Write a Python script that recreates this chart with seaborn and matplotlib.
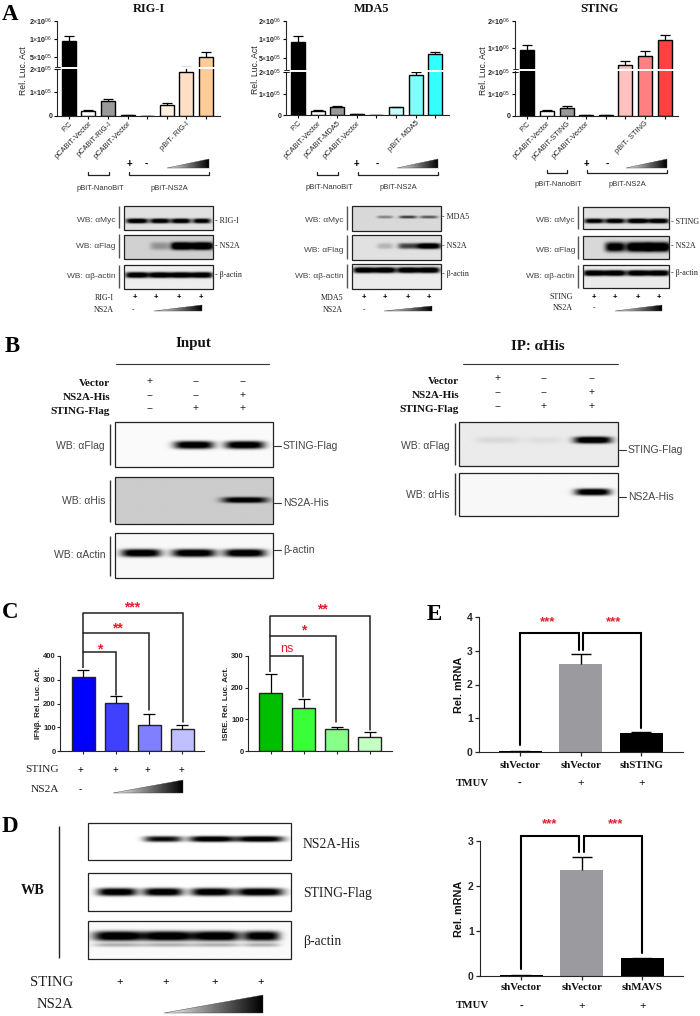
import numpy as np
import pandas as pd
import seaborn as sns
import matplotlib.pyplot as plt
from matplotlib.patches import Polygon, Rectangle

# values
a_labels_rig = ['P.C', 'pCABiT-Vector', 'pCABiT-RIG-I', 'pCABiT-Vector', '', '', 'pBiT- RIG-I', '']
a_labels_mda = ['P.C', 'pCABiT-Vector', 'pCABiT-MDA5', 'pCABiT-Vector', '', '', 'pBiT- MDA5', '']
a_labels_sting = ['P.C', 'pCABiT-Vector', 'pCABiT-STING', 'pCABiT-Vector', '', '', 'pBiT- STING', '']

rig_vals = [9.35e5, 2.2e4, 6.2e4, 4e3, 5e2, 4.5e4, 1.85e5, 5e5]
rig_errs = [1.18e6, 2.5e4, 7.2e4, 5e3, 5e2, 5.3e4, 2.5e5, 6.4e5]
mda_vals = [9.2e5, 2.1e4, 4e4, 4e3, 5e2, 3.7e4, 1.86e5, 6.05e5]
mda_errs = [1.2e6, 2.4e4, 4.6e4, 5e3, 5e2, 4e4, 1.97e5, 6.75e5]
sting_vals = [9.33e5, 2.2e4, 3.7e4, 4e3, 1e3, 4.1e5, 7.2e5, 1.3e6]
sting_errs = [1.11e6, 2.5e4, 4.4e4, 5e3, 1e3, 5.5e5, 9e5, 1.48e6]

rig_colors = ['black', 'white', '#999999', 'white', 'white', '#FFF0E2', '#FFE0C4', '#FFCC99']
mda_colors = ['black', 'white', '#999999', 'white', 'white', '#C4FFFF', '#80FFFF', '#33FFFF']
sting_colors = ['black', 'white', '#999999', 'white', 'white', '#FFC0C0', '#FF8080', '#FF4040']

ifn_vals = [310, 202, 110, 93]
ifn_errs = [340, 230, 155, 110]
isre_vals = [182, 136, 68, 44]
isre_errs = [243, 163, 77, 60]
ifn_colors = ['#0000FF', '#4040FF', '#8080FF', '#C0C0FF']
isre_colors = ['#00BE00', '#38FF38', '#88FF88', '#C4FFC4']

e1_labels = ['shVector', 'shVector', 'shSTING']
e1_vals = [0.03, 2.6, 0.56]
e1_errs = [0.03, 2.9, 0.58]
e2_labels = ['shVector', 'shVector', 'shMAVS']
e2_vals = [0.02, 2.35, 0.39]
e2_errs = [0.02, 2.65, 0.41]
e_colors = ['black', '#9B9A9F', 'black']

# band strengths on the blots
rig_myc = [0.95, 0.9, 0.9, 0.85]
rig_flag = [0.0, 0.22, 1.0, 1.0]
rig_actin = [1.0, 1.0, 1.0, 1.0]
mda_myc = [0.0, 0.3, 0.55, 0.45]
mda_flag = [0.0, 0.15, 0.55, 1.0]
mda_actin = [1.0, 1.0, 1.0, 1.0]
st_myc = [0.85, 0.9, 1.0, 0.95]
st_flag = [0.0, 0.85, 1.0, 1.0]
st_actin = [1.0, 1.0, 1.0, 1.0]
in_flag = [0.0, 1.0, 1.0]
in_his = [0.0, 0.0, 0.8]
in_actin = [1.0, 1.0, 1.0]
ip_flag = [0.06, 0.04, 1.0]
ip_his = [0.0, 0.0, 1.0]
d_his = [0.0, 0.85, 1.0, 1.0]
d_flag = [1.0, 1.0, 1.0, 1.0]
d_actin = [1.0, 1.0, 1.0, 0.95]

W, H = 700, 1016
sns.set_theme(style='ticks')
plt.rcParams['font.family'] = ['Liberation Sans', 'DejaVu Sans']
plt.rcParams['mathtext.fontset'] = 'custom'
plt.rcParams['mathtext.rm'] = 'Liberation Sans'
plt.rcParams['axes.linewidth'] = 0.8
SERIF = ['Liberation Serif', 'DejaVu Serif']

fig = plt.figure(figsize=(W / 100, H / 100), dpi=100, facecolor='white')


def px_axes(x0, y0, x1, y1):
    return fig.add_axes([x0 / W, 1 - y1 / H, (x1 - x0) / W, (y1 - y0) / H])


def bars(ax, vals, errs, colors, width, edge='black', lw=1.0, err_lw=0.9, cap=5):
    df = pd.DataFrame({'pos': range(len(vals)), 'val': vals})
    sns.barplot(data=df, x='pos', y='val', hue='pos', palette=colors, dodge=False, legend=False, saturation=1,
                width=width, edgecolor=edge, linewidth=lw, ax=ax)
    ax.vlines(df['pos'], vals, errs, color='black', lw=err_lw, zorder=1)
    ax.plot(df['pos'], errs, ls='none', marker='_', ms=cap * 2, mew=err_lw, color='black', zorder=1)
    ax.set_xlabel('')
    ax.set_ylabel('')
    sns.despine(ax=ax)
    ax.patch.set_alpha(0)


def luc_panel(x0, x1, ytop, y0px, first, step, anchors, ticks, tick_labels, vals, errs, colors, labels, brk, ylab_x):
    # piecewise y scale through the tick positions, as the broken axis has it
    pos = y0px - np.array(anchors, dtype=float)
    tk = np.array(ticks, dtype=float)
    ax = px_axes(x0, ytop, x1, y0px)
    bars(ax, vals, errs, colors, 14 / step, cap=3.5)
    ax.set_yscale('function', functions=(lambda v: np.interp(v, tk, pos), lambda p: np.interp(p, pos, tk)))
    ax.set_ylim(0, 2e6)
    ax.set_xlim((x0 - first) / step, (x1 - first) / step)
    ax.set_yticks(ticks, tick_labels, fontsize=5, fontweight='bold')
    ax.minorticks_off()
    ax.set_xticks(range(8), labels, fontsize=5.4, rotation=45, ha='right', rotation_mode='anchor')
    ax.tick_params(axis='both', length=2, width=0.8, pad=1.2, color='black', labelcolor='#222222')
    ov.plot([x0 - 3, x1 + 1], [brk, brk], color='white', lw=1.4, zorder=5)
    ov.plot([x0 - 2.5, x0 + 2.5], [brk - 1.2, brk - 1.2], color='black', lw=0.6, zorder=6)
    ov.plot([x0 - 2.5, x0 + 2.5], [brk + 1.2, brk + 1.2], color='black', lw=0.6, zorder=6)
    ov.text(ylab_x, (ytop + y0px) / 2 + 2, 'Rel. Luc. Act', rotation=90, fontsize=6.2, ha='center', va='center', color='#222222')
    return ax


def gradient(x0, x1, ybot, ytop):
    grad = np.linspace(0.95, 0, 128)[None, :]
    im = ov.imshow(grad, extent=(x0, x1, ybot, ytop), cmap='gray', vmin=0, vmax=1, aspect='auto', zorder=4)
    tri = Polygon([(x0, ybot), (x1, ybot), (x1, ytop)], closed=True, transform=ov.transData, fc='none', ec='#444444', lw=0.3, zorder=4)
    ov.add_patch(tri)
    im.set_clip_path(tri)
    ov.set_xlim(0, W)
    ov.set_ylim(H, 0)


def blot(box, cy, lanes, widths, strengths, h=6, bg=0.96, smear=None, edge='#222222', lw=0.9):
    x0, y0, x1, y1 = box
    xs = np.arange(x0, x1 + 0.5, 0.5)
    ys = np.arange(y0, y1 + 0.5, 0.5)
    xx, yy = np.meshgrid(xs, ys)
    img = np.full(xx.shape, float(bg))
    for cx, w, s in zip(lanes, widths, strengths):
        band = np.exp(-np.abs((xx - cx) / (w / 2)) ** 4) * np.exp(-np.abs((yy - cy) / (h / 2)) ** 3)
        img -= 1.15 * s * band
    if smear is not None:
        sy, sh, sa = smear
        for cx, w in zip(lanes, widths):
            img -= sa * np.exp(-((xx - cx) / (w / 2)) ** 4) * np.exp(-((yy - sy) / (sh / 2)) ** 2)
    ov.imshow(np.clip(img, 0, 1), extent=(x0, x1, y1, y0), cmap='gray', vmin=0, vmax=1, aspect='auto',
              interpolation='bilinear', zorder=3)
    ov.add_patch(Rectangle((x0, y0), x1 - x0, y1 - y0, fc='none', ec=edge, lw=lw, zorder=4))
    ov.set_xlim(0, W)
    ov.set_ylim(H, 0)


def vline(x, y0, y1, color='#555555', lw=1.0):
    ov.plot([x, x], [y0, y1], color=color, lw=lw, solid_capstyle='butt', zorder=4)


def bracket(x0, y0, x1, y1, ybar, lw=1.1, color='#222222'):
    ov.plot([x0, x0, x1, x1], [y0, ybar, ybar, y1], color=color, lw=lw, solid_joinstyle='miter', zorder=4)


def txt(x, y, s, size=5.5, ha='center', color='#333333', serif=False, bold=False):
    ov.text(x, y, s, fontsize=size, ha=ha, va='center', color=color, family=SERIF if serif else None,
            fontweight='bold' if bold else 'normal', zorder=6)


def stars(x, y, s, size=10):
    ov.text(x, y + 2, s, fontsize=size, ha='center', va='center', color='#E02030', zorder=6, fontweight='bold')


# overlay in picture pixels for the labels and blots
ov = fig.add_axes([0, 0, 1, 1], zorder=10)
ov.set_xlim(0, W)
ov.set_ylim(H, 0)
ov.axis('off')
ov.patch.set_alpha(0)

# panel letters
for x, y, s in [(10, 14, 'A'), (12, 347, 'B'), (10, 613, 'C'), (10, 827, 'D'), (434, 614, 'E')]:
    txt(x, y, s, size=16.5, color='black', serif=True, bold=True)

# A: luciferase panels
luc_panel(57, 220, 21, 116, 68.7, 19.6, [116, 92.3, 69, 57, 39, 21], [0, 1e5, 2e5, 5e5, 1e6, 2e6],
          ['0', r'1$\times$10$^{05}$', r'2$\times$10$^{05}$', r'5$\times$10$^{05}$', r'1$\times$10$^{06}$', r'2$\times$10$^{06}$'],
          rig_vals, rig_errs, rig_colors, a_labels_rig, 67.7, 24)
luc_panel(286, 449, 20.7, 115.3, 298, 19.6, [115.3, 94, 71.7, 58.3, 39.3, 20.7], [0, 1e5, 2e5, 5e5, 1e6, 2e6],
          ['0', r'1$\times$10$^{05}$', r'2$\times$10$^{05}$', r'5$\times$10$^{05}$', r'1$\times$10$^{06}$', r'2$\times$10$^{06}$'],
          mda_vals, mda_errs, mda_colors, a_labels_mda, 70.7, 256)
luc_panel(515, 678, 20.7, 115.7, 527.3, 19.6, [115.7, 94, 71.7, 47.7, 20.7], [0, 1e5, 2e5, 1e6, 2e6],
          ['0', r'1$\times$10$^{05}$', r'2$\times$10$^{05}$', r'1$\times$10$^{06}$', r'2$\times$10$^{06}$'],
          sting_vals, sting_errs, sting_colors, a_labels_sting, 70.3, 484)

for x, s in [(149, 'RIG-I'), (372, 'MDA5'), (599, 'STING')]:
    txt(x, 9, s, size=8.8, color='#111111', serif=True, bold=True)

for plus, minus, tri0, tri1, br0, br1, br2, br3, by, lab0, lab1, ly in [
        (129, 146, 167, 209, 88, 109, 129, 209, 172, 100, 169, 188),
        (356, 377, 397, 438, 317, 338, 358, 438, 172, 329, 398, 187.5),
        (586, 607, 626, 667, 547, 567, 587, 667, 170, 558, 627, 185)]:
    txt(plus, 164, '+', size=7, color='black', bold=True)
    txt(minus, 164, '-', size=7, color='black', bold=True)
    gradient(tri0, tri1, 168, 159)
    for a, b in [(br0, br1), (br2, br3)]:
        ov.plot([a, a, b, b], [by, by + 3, by + 3, by], color='#222222', lw=0.9, zorder=4)
    txt(lab0, ly, 'pBiT-NanoBiT', size=5.5)
    txt(lab1, ly, 'pBiT-NS2A', size=5.5)

# A: blots
blot((124, 206, 213, 230), 221, [137, 160, 181, 202], [22, 20, 20, 18], rig_myc, h=5, bg=0.88)
blot((124, 235, 213, 259), 246, [137, 160, 181, 202], [18, 20, 20, 24], rig_flag, h=8, bg=0.82)
blot((124, 265, 213, 289), 275, [137, 160, 181, 202], [24, 22, 22, 22], rig_actin, h=6, bg=0.93)
blot((352, 206, 441, 231), 217, [364, 385, 408, 429], [20, 16, 18, 18], mda_myc, h=3, bg=0.85)
blot((352, 235, 441, 260), 246, [364, 385, 408, 429], [20, 16, 20, 24], mda_flag, h=6, bg=0.88)
blot((352, 264, 441, 289), 270, [364, 385, 408, 429], [22, 22, 22, 22], mda_actin, h=6, bg=0.92)
blot((583, 207, 669, 229), 221, [594, 615, 638, 659], [20, 20, 22, 20], st_myc, h=5, bg=0.88)
blot((583, 236, 669, 259), 247, [594, 615, 638, 659], [16, 20, 24, 24], st_flag, h=10, bg=0.85)
blot((583, 265, 669, 288), 273, [594, 615, 638, 659], [22, 22, 22, 22], st_actin, h=6, bg=0.92)

for x, ys in [(119, [(206, 228), (234, 258), (265, 288)]), (347, [(206, 230), (235, 259), (264, 288)]),
              (578, [(206, 229), (236, 259), (265, 288)])]:
    for y0, y1 in ys:
        vline(x, y0, y1)

for rx, ys, names in [(116, [221, 246, 277], ['WB: αMyc', 'WB: αFlag', 'WB: αβ-actin']),
                      (344, [221, 250, 277], ['WB: αMyc', 'WB: αFlag', 'WB: αβ-actin']),
                      (575, [220, 250, 276], ['WB: αMyc', 'WB: αFlag', 'WB: αβ-actin'])]:
    for y, s in zip(ys, names):
        txt(rx, y, s, size=6, ha='right', color='#444444')

for x, y, s in [(215, 221, '- RIG-I'), (215, 246, '- NS2A'), (215, 275, '- β-actin'),
                (442, 217, '- MDA5'), (442, 246, '- NS2A'), (442, 274, '- β-actin'),
                (671, 222, '- STING'), (671, 246, '- NS2A'), (671, 273, '- β-actin')]:
    txt(x, y, s, size=5.8, ha='left', color='#222222', serif=True)

for name, rx, y1, y2, lanes, dash, t0, t1, tb, tt in [
        ('RIG-I', 114, 298, 310, [135, 156, 179, 201], 133, 154, 202, 311, 305),
        ('MDA5', 343, 298, 310, [364, 385, 408, 429], 364, 384, 432, 311, 306),
        ('STING', 573, 297, 308, [594, 615, 638, 659], 594, 615, 662, 311, 305)]:
    txt(rx, y1, name, size=5.8, ha='right', color='#222222', serif=True)
    txt(rx, y2, 'NS2A', size=5.8, ha='right', color='#222222', serif=True)
    for x in lanes:
        txt(x, y1, '+', size=5.5, color='black', bold=True)
    txt(dash, y2, '-', size=5.5, color='black')
    gradient(t0, t1, tb, tt)

# B: co-IP
txt(193, 344, 'Input', size=10.8, color='#111111', serif=True, bold=True)
txt(538, 347, 'IP: αHis', size=10.8, color='#111111', serif=True, bold=True)
ov.plot([116, 269], [364, 364], color='#333333', lw=0.8)
ov.plot([463, 618], [364, 364], color='#333333', lw=0.8)
for rx, ys, lanes, my in [(110, [384, 397, 411], [150, 196, 243], [381, 395, 408]),
                          (459, [381, 395, 409], [498, 544, 592], [378, 392, 406])]:
    for y, s in zip(ys, ['Vector', 'NS2A-His', 'STING-Flag']):
        txt(rx, y, s, size=8, ha='right', color='#111111', serif=True, bold=True)
    for row, marks in zip(my, [['+', '--', '--'], ['--', '--', '+'], ['--', '+', '+']]):
        for x, m in zip(lanes, marks):
            txt(x, row, m, size=7.5, color='#222222')

lanes_in = [141, 194, 245]
blot((115, 422, 273, 467), 445, lanes_in, [40, 40, 40], in_flag, h=8, bg=0.98)
blot((115, 477, 273, 524), 500, lanes_in, [40, 40, 46], in_his, h=6, bg=0.8)
blot((115, 533, 273, 578), 553, lanes_in, [40, 44, 42], in_actin, h=8, bg=0.97)
lanes_ip = [498, 544, 593]
blot((459, 422, 618, 466), 440, lanes_ip, [44, 36, 38], ip_flag, h=7, bg=0.92)
blot((459, 473, 618, 516), 492, lanes_ip, [40, 36, 36], ip_his, h=7, bg=0.97)

for y0, y1 in [(424, 465), (480, 522), (536, 576)]:
    vline(110, y0, y1, color='#333333')
for y0, y1 in [(423, 465), (473, 515)]:
    vline(455, y0, y1, color='#333333')

for rx, y, s in [(105, 446, 'WB: αFlag'), (105, 501, 'WB: αHis'), (105, 555, 'WB: αActin'),
                 (450, 446, 'WB: αFlag'), (450, 495, 'WB: αHis')]:
    txt(rx, y, s, size=7.5, ha='right', color='#444444')
for x0, x1, y, s in [(274, 281, 446, 'STING-Flag'), (274, 281, 503, 'NS2A-His'), (274, 281, 550, 'β-actin'),
                     (619, 626, 450, 'STING-Flag'), (619, 626, 497, 'NS2A-His')]:
    ov.plot([x0, x1], [y, y], color='#333333', lw=0.8)
    txt(x1 + 2, y, s, size=7.5, ha='left', color='#444444')

# C: reporter assays
ax = px_axes(60, 656, 204, 751)
bars(ax, ifn_vals, ifn_errs, ifn_colors, 23 / 33, edge='#222222', cap=4.5)
ax.set_xlim((60 - 83) / 33, (204 - 83) / 33)
ax.set_ylim(0, 400)
ax.set_yticks([0, 100, 200, 300, 400])
ax.set_xticks(range(4), [''] * 4)
ax.tick_params(length=2, width=0.8, labelsize=5.5, pad=1)
for t in ax.get_yticklabels():
    t.set_fontweight('bold')
ov.text(39, 703, 'IFNβ. Rel. Luc. Act.', rotation=90, fontsize=5.8, ha='center', va='center', color='#222222', fontweight='bold')

ax = px_axes(248, 656, 392, 751)
bars(ax, isre_vals, isre_errs, isre_colors, 23 / 33, edge='#222222', cap=4.5)
ax.set_xlim((248 - 271) / 33, (392 - 271) / 33)
ax.set_ylim(0, 300)
ax.set_yticks([0, 100, 200, 300])
ax.set_xticks(range(4), [''] * 4)
ax.tick_params(length=2, width=0.8, labelsize=5.5, pad=1)
for t in ax.get_yticklabels():
    t.set_fontweight('bold')
ov.text(226, 703, 'ISRE. Rel. Luc. Act.', rotation=90, fontsize=5.8, ha='center', va='center', color='#222222', fontweight='bold')

vline(83, 613, 668, color='#222222', lw=1.1)
vline(270, 616, 672, color='#222222', lw=1.1)
bracket(83, 613, 183, 722, 613)
bracket(83, 633, 149, 710, 633)
bracket(83, 652, 116, 695, 652)
bracket(270, 616, 370, 730, 616)
bracket(270, 636, 336, 722, 636)
bracket(270, 656, 303, 697, 656)
stars(132, 605, '***')
stars(117, 626, '**')
stars(100, 647, '*')
stars(322, 607, '**')
stars(304, 628, '*')
txt(287, 649, 'ns', size=9, color='#E02030')

txt(59, 770, 'STING', size=8.2, ha='right', color='#222222', serif=True)
txt(59, 789, 'NS2A', size=8.2, ha='right', color='#222222', serif=True)
for x in [80, 115, 147, 181]:
    txt(x, 770, '+', size=7, color='black')
txt(80, 789, '-', size=7, color='black')
gradient(113, 183, 793, 780)

# D: western
lanes_d = [117, 163, 212, 260]
blot((88, 823, 291, 860), 839, lanes_d, [40, 38, 46, 48], d_his, h=6, bg=1.0)
blot((88, 873, 291, 911), 892, lanes_d, [40, 40, 42, 48], d_flag, h=8, bg=1.0)
blot((88, 921, 291, 959), 936, [118, 168, 217, 262], [50, 52, 48, 36], d_actin, h=10, bg=0.98, smear=(945, 4, 0.3))
vline(59, 826, 958, color='#222222')
txt(33, 891, 'WB', size=10.3, color='#111111', serif=True, bold=True)
for y, s in [(845, 'NS2A-His'), (893, 'STING-Flag'), (942, 'β-actin')]:
    txt(303, y, s, size=9.8, ha='left', color='#222222', serif=True)
txt(73, 982, 'STING', size=10.5, ha='right', color='#222222', serif=True)
txt(73, 1005, 'NS2A', size=10.5, ha='right', color='#222222', serif=True)
for x in [120, 166, 215, 261]:
    txt(x, 982, '+', size=8, color='black')
gradient(164, 263, 1013, 995)


# E: qPCR
def qpcr(x0, x1, ytop, ybot, first, vals, errs, labels, ymax, ticks, ylab_x, lab_y, tm_y):
    ax = px_axes(x0, ytop, x1, ybot)
    bars(ax, vals, errs, e_colors, 43 / 60.7, edge='none', lw=0, err_lw=1.0, cap=7)
    ax.set_xlim((x0 - first) / 60.7, (x1 - first) / 60.7)
    ax.set_ylim(0, ymax)
    ax.set_yticks(ticks)
    ax.set_xticks(range(3), [''] * 3)
    ax.tick_params(length=3, width=0.9, labelsize=7.5, pad=1.5)
    for t in ax.get_yticklabels():
        t.set_fontweight('bold')
    ov.text(ylab_x, (ytop + ybot) / 2, 'Rel. mRNA', rotation=90, fontsize=7.8, ha='center', va='center', color='#111111', fontweight='bold')
    for i, s in enumerate(labels):
        txt(first + i * 60.7, lab_y, s, size=7.8, color='#111111', serif=True, bold=True)
        txt(first + i * 60.7, tm_y, '-' if i == 0 else '+', size=8, color='#111111', bold=i == 0)
    txt(473, tm_y, 'TMUV', size=7.8, color='#111111', serif=True, bold=True)


qpcr(479, 683, 617, 752, 520, e1_vals, e1_errs, e1_labels, 4, [0, 1, 2, 3, 4], 459, 765, 783)
qpcr(480, 683, 841, 976, 521, e2_vals, e2_errs, e2_labels, 3, [0, 1, 2, 3], 459, 988, 1006)

bracket(520, 745, 579, 650, 633, lw=1.5, color='black')
bracket(583, 650, 641, 728, 633, lw=1.5, color='black')
bracket(521, 969, 579, 852, 836, lw=1.5, color='black')
bracket(584, 852, 642, 953, 836, lw=1.5, color='black')
for x, y in [(548, 620), (614, 620), (550, 822), (616, 822)]:
    stars(x, y, '***', size=9.5)

fig.savefig('out.png', dpi=100)
